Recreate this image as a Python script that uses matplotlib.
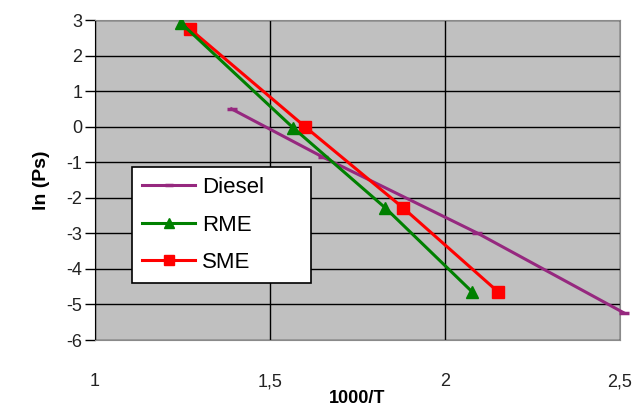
import numpy as np
import matplotlib.pyplot as plt

plt.rcParams['font.family'] = ['Liberation Sans', 'DejaVu Sans']
plt.rcParams['axes.unicode_minus'] = False

# data
diesel_x = [1.39, 1.65, 2.09, 2.51]
diesel_y = [0.50, -0.85, -2.98, -5.23]
rme_x = [1.245, 1.566, 1.829, 2.077]
rme_y = [2.92, -0.03, -2.28, -4.64]
sme_x = [1.271, 1.60, 1.88, 2.151]
sme_y = [2.75, 0.0, -2.28, -4.64]

xticks = [1, 1.5, 2, 2.5]
xtick_labels = ['1', '1,5', '2', '2,5']
yticks = np.arange(-6, 4)

fig = plt.figure(figsize=(6.35, 4.11), dpi=100)
ax = fig.add_axes([0.1496, 0.1727, 0.8268, 0.7786])
ax.set_facecolor('#C0C0C0')

ax.plot(diesel_x, diesel_y, color='#96287F', lw=2.2, marker='_', ms=7, mew=2.5,
        label='Diesel', clip_on=False, zorder=3)
ax.plot(rme_x, rme_y, color='#008000', lw=2.2, marker='^', ms=9,
        label='RME', zorder=4)
ax.plot(sme_x, sme_y, color='#FF0000', lw=2.2, marker='s', ms=9,
        label='SME', zorder=3)

ax.set_xlim(1, 2.5)
ax.set_ylim(-6, 3)
ax.set_xticks(xticks)
ax.set_xticklabels(xtick_labels)
ax.set_yticks(yticks)
ax.grid(True, color='black', lw=1)
ax.set_axisbelow(True)

ax.tick_params(axis='x', length=0, pad=24, labelsize=13, colors='#222222')
ax.tick_params(axis='y', length=7, width=1, pad=2, labelsize=13, colors='black')
for lab in ax.get_yticklabels():
    lab.set_color('#222222')

for side in ['top', 'right', 'bottom']:
    ax.spines[side].set_color('#8A8A8A')
ax.spines['left'].set_color('black')

ax.set_xlabel('1000/T', fontsize=13, fontweight='bold', labelpad=0)
ax.set_ylabel('ln (Ps)', fontsize=14, fontweight='bold', labelpad=12)

leg = ax.legend(loc='upper left', bbox_to_anchor=(0.0705, 0.172, 0.341, 0.369),
                mode='expand', fontsize=16, fancybox=False, framealpha=1,
                edgecolor='black', handlelength=2.4, handletextpad=0.3,
                labelspacing=0.75, borderpad=0.45, borderaxespad=0,
                markerscale=0.85)
leg.get_frame().set_linewidth(1.2)
leg.set_zorder(5)

fig.savefig('out.png', dpi=100, facecolor='white')
